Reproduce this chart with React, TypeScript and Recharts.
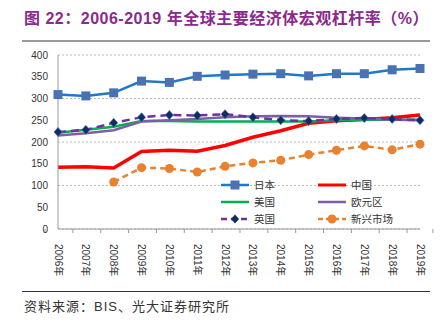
import React from 'react';
import { LineChart, Line, XAxis, YAxis, CartesianGrid, Legend } from 'recharts';

const years = ['2006年','2007年','2008年','2009年','2010年','2011年','2012年','2013年','2014年','2015年','2016年','2017年','2018年','2019年'];
const japan = [309,306,313,340,337,351,354,356,357,352,357,357,366,369];
const china = [142,143,140,178,181,179,192,211,226,243,249,252,256,262];
const usa = [221,228,235,248,248,247,247,247,247,247,250,251,251,251];
const euro = [215,220,227,247,250,253,257,259,260,259,256,254,251,250];
const uk = [223,228,244,257,262,261,264,257,250,248,253,255,253,250];
const em: (number | null)[] = [null,null,108,141,139,131,144,152,158,171,181,191,182,195];
const yTicks = [0,50,100,150,200,250,300,350,400];

const data = years.map((y, i) => ({ year: y, japan: japan[i], china: china[i], usa: usa[i], euro: euro[i], uk: uk[i], em: em[i] }));

const W = 445;
const H = 300;
const M = { top: 55, right: 25, left: 0, bottom: 21 };
const YW = 58;
const plotW = W - M.left - M.right - YW;
const bw = plotW / years.length;

const C = {
  japanLine: '#1F78C8', japanMark: '#4A72B0',
  china: '#FF0000', usa: '#00B050', euro: '#7E5FA6', uk: '#7030A0', ukMark: '#0F2D5F', em: '#E8822E',
};

const FONT = '"Liberation Sans", Arial, "Noto Sans CJK SC", sans-serif';

const XTick = (props: any) => {
  const { x, y, payload, index } = props;
  return (
    <g>
      <line x1={x - bw / 2} x2={x - bw / 2} y1={y} y2={y + 4} stroke="#999" />
      {index === years.length - 1 && <line x1={x + bw / 2} x2={x + bw / 2} y1={y} y2={y + 4} stroke="#999" />}
      <g transform={`translate(${x},${y + 15})`}>
        <text transform="rotate(90)" x={0} y={0} dy="0.35em" textAnchor="start" fontSize={10} fill="#333" fontFamily={FONT}>
          {payload.value}
        </text>
      </g>
    </g>
  );
};

const squareDot = (p: any) => {
  if (p.cx == null || p.cy == null || p.value == null) return <g key={`js${p.index}`} />;
  return <rect key={`js${p.index}`} x={p.cx - 4.5} y={p.cy - 4.5} width={9} height={9} fill={C.japanMark} />;
};
const diamondDot = (p: any) => {
  if (p.cx == null || p.cy == null || p.value == null) return <g key={`uk${p.index}`} />;
  const { cx, cy } = p;
  return <path key={`uk${p.index}`} d={`M${cx},${cy - 4.5}L${cx + 4},${cy}L${cx},${cy + 4.5}L${cx - 4},${cy}Z`} fill={C.ukMark} stroke="#3A6AA8" strokeWidth={0.6} />;
};
const circleDot = (p: any) => {
  if (p.cx == null || p.cy == null || p.value == null) return <g key={`em${p.index}`} />;
  return <circle key={`em${p.index}`} cx={p.cx} cy={p.cy} r={4.5} fill={C.em} />;
};

const legendItems = [
  { name: '日本', color: C.japanLine, dash: undefined as string | undefined, marker: 'square', width: 2.5 },
  { name: '中国', color: C.china, dash: undefined, marker: 'none', width: 3 },
  { name: '美国', color: C.usa, dash: undefined, marker: 'none', width: 2.5 },
  { name: '欧元区', color: C.euro, dash: undefined, marker: 'none', width: 2.5 },
  { name: '英国', color: C.uk, dash: '6 4', marker: 'diamond', width: 2.5 },
  { name: '新兴市场', color: C.em, dash: '5 3', marker: 'circle', width: 2.5 },
];

const renderLegend = () => (
  <div style={{ display: 'grid', gridTemplateColumns: '97px 97px', rowGap: 0, fontFamily: FONT }}>
    {legendItems.map((it) => (
      <div key={it.name} style={{ display: 'flex', alignItems: 'center', height: 17 }}>
        <svg width={30} height={12} style={{ marginRight: 4 }}>
          <line x1={1} x2={29} y1={6} y2={6} stroke={it.color} strokeWidth={it.width} strokeDasharray={it.dash} />
          {it.marker === 'square' && <rect x={10.5} y={1.5} width={9} height={9} fill={C.japanMark} />}
          {it.marker === 'diamond' && <path d="M15,1.5L19,6L15,10.5L11,6Z" fill={C.ukMark} />}
          {it.marker === 'circle' && <circle cx={15} cy={6} r={4.5} fill={C.em} />}
        </svg>
        <span style={{ fontSize: 10.5, color: '#333' }}>{it.name}</span>
      </div>
    ))}
  </div>
);

export default function App() {
  return (
    <div style={{ position: 'absolute', left: 0, top: 0, width: 445, height: 323, background: '#fff', overflow: 'hidden' }}>
      <div style={{ position: 'absolute', left: 24, top: 5, whiteSpace: 'nowrap', color: '#8A2A8C', fontWeight: 'bold', fontSize: 16, letterSpacing: 0.5, fontFamily: '"Liberation Sans", Arial, "Noto Sans CJK SC", sans-serif' }}>
        图 22：2006-2019 年全球主要经济体宏观杠杆率（%）
      </div>
      <div style={{ position: 'absolute', left: 22, top: 40, width: 408, height: 2, background: '#999' }} />
      <div style={{ position: 'absolute', left: 0, top: 0 }}>
        <LineChart width={W} height={H} data={data} margin={M}>
          <CartesianGrid horizontal vertical={false} stroke="#BBB" strokeDasharray="2 2" />
          <XAxis dataKey="year" interval={0} tickLine={false} tickSize={0} tickMargin={0} axisLine={{ stroke: '#999' }} tick={<XTick />} height={50} />
          <YAxis domain={[0, 400]} ticks={yTicks} width={YW} tickLine={false} tickSize={6} tickMargin={4} axisLine={{ stroke: '#999' }} tick={{ fontSize: 10, fill: '#333', fontFamily: FONT }} />
          <Legend verticalAlign="middle" align="center" content={renderLegend} wrapperStyle={{ position: 'absolute', left: 220, top: 176, width: 200 }} />
          <Line type="linear" dataKey="japan" name="日本" stroke={C.japanLine} strokeWidth={2.5} dot={squareDot} isAnimationActive={false} />
          <Line type="linear" dataKey="china" name="中国" stroke={C.china} strokeWidth={3.5} dot={false} isAnimationActive={false} />
          <Line type="linear" dataKey="usa" name="美国" stroke={C.usa} strokeWidth={2.5} dot={false} isAnimationActive={false} />
          <Line type="linear" dataKey="euro" name="欧元区" stroke={C.euro} strokeWidth={2.5} dot={false} isAnimationActive={false} />
          <Line type="linear" dataKey="uk" name="英国" stroke={C.uk} strokeWidth={2.5} strokeDasharray="8 5" dot={diamondDot} isAnimationActive={false} />
          <Line type="linear" dataKey="em" name="新兴市场" stroke={C.em} strokeWidth={2.5} strokeDasharray="6 4" dot={circleDot} isAnimationActive={false} />
        </LineChart>
      </div>
      <div style={{ position: 'absolute', left: 22, top: 291, width: 408, height: 1, background: '#333' }} />
      <div style={{ position: 'absolute', left: 24, top: 296, whiteSpace: 'nowrap', color: '#333', fontSize: 13, letterSpacing: 1, fontFamily: '"Liberation Sans", Arial, "Noto Sans CJK SC", sans-serif' }}>
        资料来源：BIS、光大证券研究所
      </div>
    </div>
  );
}
